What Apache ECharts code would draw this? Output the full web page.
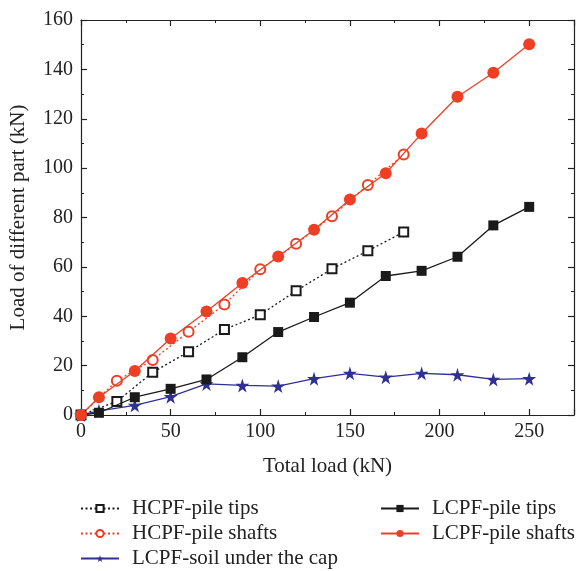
<!DOCTYPE html>
<html><head><meta charset="utf-8">
<script src="https://cdn.jsdelivr.net/npm/echarts@6/dist/echarts.min.js"></script>
<style>html,body{margin:0;padding:0;background:#fff}#c{width:576px;height:571px}</style>
</head><body><div id="c"></div>
<script>
const xLCPF = [0,10,30,50,70,90,110,130,150,170,190,210,230,250];
const xHCPF = [0,20,40,60,80,100,120,140,160,180];
const hcpfTips = [0,5.5,17.3,25.6,34.6,40.6,50.3,59.2,66.5,74.1];
const hcpfShafts = [0,13.9,22.3,33.7,44.8,59,69.4,80.5,93.2,105.5];
const lcpfTips = [0,0.9,7.2,10.6,14.4,23.4,33.6,39.7,45.5,56.3,58.4,64.1,76.8,84.3];
const lcpfShafts = [0,7.2,17.8,31,41.9,53.5,64.2,75,87.3,97.9,114,128.9,138.6,150.2];
const lcpfSoil = [0,1.7,3.9,7.4,12.6,12,11.7,14.7,16.9,15.3,16.9,16.3,14.4,14.7];
const xTicks = [0,50,100,150,200,250];
const yTicks = [0,20,40,60,80,100,120,140,160];

const FONT = 'Liberation Serif';
const RED = '#EE3F24', BLK = '#1a1a1a', BLUE = '#2E3192';
const STAR = 'path://M50,0 L61,35 L98,35 L68,57 L79,91 L50,70 L21,91 L32,57 L2,35 L39,35 Z';
const zip = (xs, ys) => xs.map((x, i) => [x, ys[i]]);

const axisCommon = {
  type: 'value', splitLine: {show: false},
  axisLine: {show: true, onZero: false, lineStyle: {color: '#222', width: 1.2}},
  axisTick: {show: true, inside: true, length: 6, lineStyle: {color: '#222', width: 1.2}},
  minorTick: {show: true, splitNumber: 2, length: 3, lineStyle: {color: '#222', width: 1}},
};
const labelStyle = {fontFamily: FONT, fontSize: 20, color: '#222'};
const legendText = {fontFamily: FONT, fontSize: 21, color: '#222', padding: [0, 0, 0, 8]};

const chart = echarts.init(document.getElementById('c'));
chart.setOption({
  animation: false,
  backgroundColor: '#fff',
  grid: {left: 80, right: 2, top: 20, bottom: 156},
  xAxis: [
    Object.assign({}, axisCommon, {position: 'bottom', min: 0, max: 275, interval: 50,
      name: 'Total load (kN)', nameLocation: 'middle', nameGap: 41,
      nameTextStyle: {fontFamily: FONT, fontSize: 21, color: '#222'},
      axisLabel: Object.assign({}, labelStyle, {margin: 7, showMaxLabel: false,
        formatter: v => xTicks.includes(v) ? String(v) : ''})}),
    Object.assign({}, axisCommon, {position: 'top', min: 0, max: 275, interval: 50,
      axisLabel: {show: false}})
  ],
  yAxis: [
    Object.assign({}, axisCommon, {position: 'left', min: 0, max: 160, interval: 20,
      name: 'Load of different part (kN)', nameLocation: 'middle', nameGap: 52,
      nameTextStyle: {fontFamily: FONT, fontSize: 21, color: '#222'},
      axisLabel: Object.assign({}, labelStyle, {margin: 8,
        formatter: v => yTicks.includes(v) ? String(v) : ''})}),
    Object.assign({}, axisCommon, {position: 'right', min: 0, max: 160, interval: 20,
      axisLabel: {show: false}})
  ],
  legend: [
    {left: 80, top: 498, padding: 0, orient: 'vertical', itemGap: 4, itemWidth: 38, itemHeight: 9,
     textStyle: legendText,
     data: ['HCPF-pile tips', 'HCPF-pile shafts', 'LCPF-soil under the cap']},
    {left: 380, top: 498, padding: 0, orient: 'vertical', itemGap: 4, itemWidth: 38, itemHeight: 9,
     textStyle: legendText,
     data: ['LCPF-pile tips', 'LCPF-pile shafts']}
  ],
  series: [
    {name: 'HCPF-pile tips', type: 'line', data: zip(xHCPF, hcpfTips),
     symbol: 'emptyRect', symbolSize: 9, color: BLK,
     lineStyle: {color: BLK, width: 1.3, type: [2, 2.5]},
     itemStyle: {color: BLK, borderWidth: 1}, z: 3},
    {name: 'HCPF-pile shafts', type: 'line', data: zip(xHCPF, hcpfShafts),
     symbol: 'emptyCircle', symbolSize: 10, color: RED,
     lineStyle: {color: RED, width: 1.3, type: [2, 2.5]},
     itemStyle: {color: RED, borderWidth: 1}, z: 3},
    {name: 'LCPF-soil under the cap', type: 'line', data: zip(xLCPF, lcpfSoil),
     symbol: STAR, symbolSize: 14, color: BLUE,
     lineStyle: {color: BLUE, width: 1.3}, itemStyle: {color: BLUE}, z: 4},
    {name: 'LCPF-pile tips', type: 'line', data: zip(xLCPF, lcpfTips),
     symbol: 'rect', symbolSize: 10, color: BLK,
     lineStyle: {color: BLK, width: 1.3}, itemStyle: {color: BLK}, z: 4},
    {name: 'LCPF-pile shafts', type: 'line', data: zip(xLCPF, lcpfShafts),
     symbol: 'circle', symbolSize: 12, color: RED,
     lineStyle: {color: RED, width: 1.3}, itemStyle: {color: RED}, z: 4}
  ]
});
</script></body></html>
